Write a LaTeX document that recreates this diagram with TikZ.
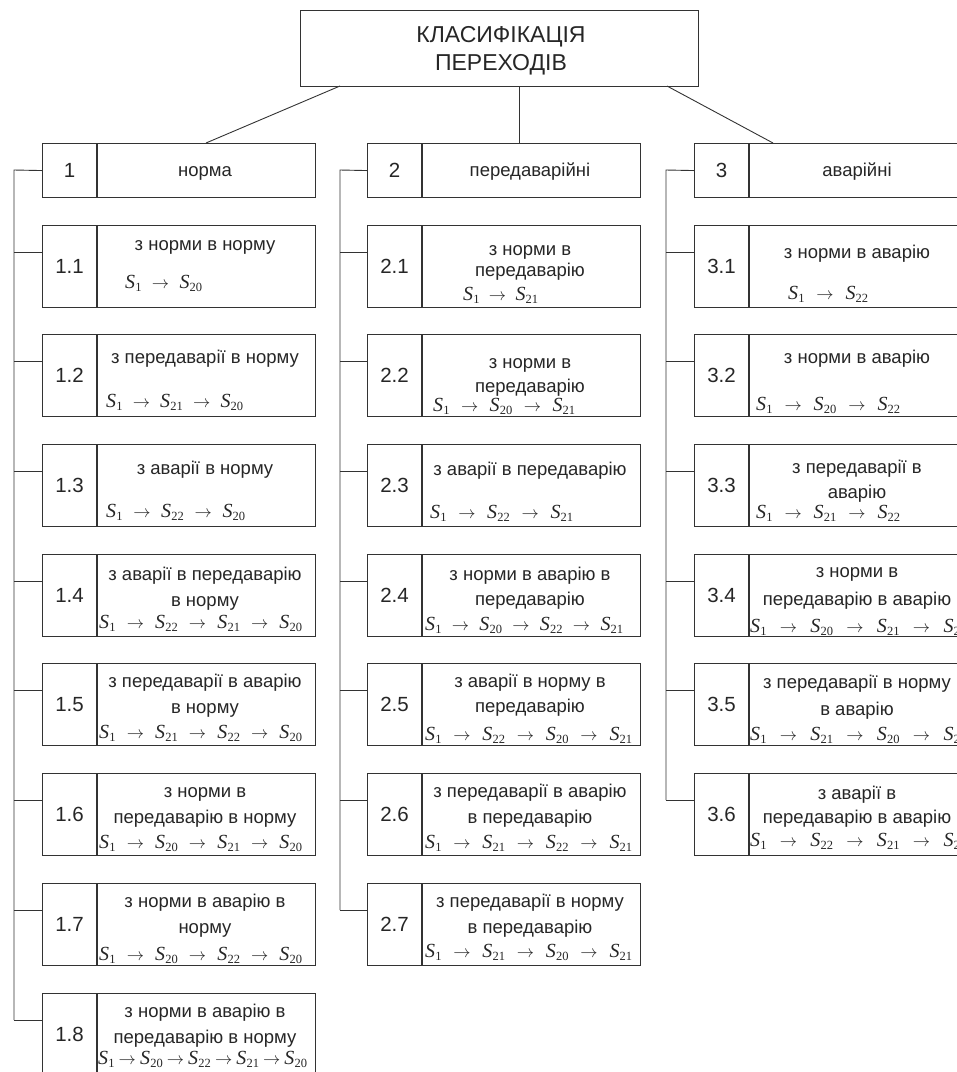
\documentclass[tikz,border=0pt]{standalone}
\usepackage{fontspec}
\setmainfont{Liberation Sans}
\newfontfamily\tnr{Liberation Serif}
\tikzset{
 boxline/.style={draw=black!80, line width=1.1pt},
 numcell/.style={boxline, minimum width=54pt, minimum height=82pt, inner sep=0pt, anchor=north west, font=\fontsize{20.5}{22}\selectfont, text=black!85},
 txtcell/.style={boxline, minimum width=218pt, minimum height=82pt, inner sep=0pt, anchor=north west},
 hnum/.style={numcell, minimum height=54pt},
 htxt/.style={txtcell, minimum height=54pt},
 tl/.style={anchor=base, inner sep=0pt, font=\fontsize{18.5}{20}\selectfont, text=black!85},
 tt/.style={anchor=base, inner sep=0pt, font=\fontsize{23}{25}\selectfont, text=black!85},
 fl/.style={anchor=base west, inner sep=0pt, text=black!85},
 conn/.style={draw=black!80, line width=0.9pt},
}
\newcommand\Sv[1]{{\fontsize{20}{21}\selectfont\tnr\itshape S}\kern0.2pt\raisebox{-3.5pt}{\fontsize{12.5}{13}\selectfont\tnr #1}}
\newcommand\Ar{\hfil{\fontsize{19}{20}\selectfont$\rightarrow$}\hfil}
\newcommand\frm[5]{\node[fl] (#1) at (#2,#3) {\makebox[#4pt][s]{#5}};}
\newcommand\tline[4]{\node[tl] (#1) at (#2,#3) {#4};}
\newcommand\tbox[5]{%
 \node[numcell] (#1n) at (#2,#3) {#4};
 \node[txtcell] (#1t) at (#1n.north east) {};
 \coordinate (#1c) at ([yshift=-27pt]#1n.north west);
 \draw[conn] (#1c) -- (#1c -| #5);
}
\begin{document}
\begin{tikzpicture}[x=1pt,y=-1pt]
\useasboundingbox (0,0) rectangle (957,1072);
\clip (0,0) rectangle (957,1072);
% title
\node[boxline, minimum width=398pt, minimum height=76pt, anchor=north west, inner sep=0pt] (title) at (300,10) {};
\node[tt] (tt1) at (501,42) {КЛАСИФІКАЦІЯ};
\node[tt] (tt2) at (501,70) {ПЕРЕХОДІВ};
% vertical line anchors
\coordinate (v1) at (14,170);
\coordinate (v2) at (340,170);
\coordinate (v3) at (666,170);
% headers
\node[hnum] (h1n) at (42,143) {1};
\node[htxt] (h1t) at (h1n.north east) {};
\tline{h1l}{205}{176}{норма}
\node[hnum] (h2n) at (367,143) {2};
\node[htxt] (h2t) at (h2n.north east) {};
\tline{h2l}{530}{176}{передаварійні}
\node[hnum] (h3n) at (694,143) {3};
\node[htxt] (h3t) at (h3n.north east) {};
\tline{h3l}{857}{176}{аварійні}
% title connectors
\coordinate (ta) at (340,86);
\coordinate (tb) at (519,86);
\coordinate (tc) at (667,86);
\coordinate (ha) at (206,143);
\coordinate (hb) at (519,143);
\coordinate (hc) at (773,143);
\draw[conn] (ta) -- (ha);
\draw[conn] (tb) -- (hb);
\draw[conn] (tc) -- (hc);
% column 1
\tbox{b11}{42}{225}{1.1}{v1}
\tline{l111}{205}{250}{з норми в норму}
\frm{f11}{125}{288}{77}{\Sv{1}\Ar\Sv{20}}
\tbox{b12}{42}{334}{1.2}{v1}
\tline{l121}{205}{363}{з передаварії в норму}
\frm{f12}{106}{407}{137}{\Sv{1}\Ar\Sv{21}\Ar\Sv{20}}
\tbox{b13}{42}{444}{1.3}{v1}
\tline{l131}{205}{474}{з аварії в норму}
\frm{f13}{106}{517}{139}{\Sv{1}\Ar\Sv{22}\Ar\Sv{20}}
\tbox{b14}{42}{554}{1.4}{v1}
\tline{l141}{205}{580}{з аварії в передаварію}
\tline{l142}{205}{606}{в норму}
\frm{f14}{99}{628}{203}{\Sv{1}\Ar\Sv{22}\Ar\Sv{21}\Ar\Sv{20}}
\tbox{b15}{42}{663}{1.5}{v1}
\tline{l151}{205}{687}{з передаварії в аварію}
\tline{l152}{205}{713}{в норму}
\frm{f15}{99}{738}{203}{\Sv{1}\Ar\Sv{21}\Ar\Sv{22}\Ar\Sv{20}}
\tbox{b16}{42}{773}{1.6}{v1}
\tline{l161}{205}{797}{з норми в}
\tline{l162}{205}{823}{передаварію в норму}
\frm{f16}{99}{848}{203}{\Sv{1}\Ar\Sv{20}\Ar\Sv{21}\Ar\Sv{20}}
\tbox{b17}{42}{883}{1.7}{v1}
\tline{l171}{205}{907}{з норми в аварію в}
\tline{l172}{205}{933}{норму}
\frm{f17}{99}{960}{203}{\Sv{1}\Ar\Sv{20}\Ar\Sv{22}\Ar\Sv{20}}
\tbox{b18}{42}{993}{1.8}{v1}
\tline{l181}{205}{1017}{з норми в аварію в}
\tline{l182}{205}{1043}{передаварію в норму}
\frm{f18}{98}{1064}{209}{\Sv{1}\Ar\Sv{20}\Ar\Sv{22}\Ar\Sv{21}\Ar\Sv{20}}
\draw[conn] (h1n.west) -- (v1) -- (b18c -| v1);
% column 2
\tbox{b21}{367}{225}{2.1}{v2}
\tline{l211}{530}{255}{з норми в}
\tline{l212}{530}{276}{передаварію}
\frm{f21}{463}{300}{75}{\Sv{1}\Ar\Sv{21}}
\tbox{b22}{367}{334}{2.2}{v2}
\tline{l221}{530}{368}{з норми в}
\tline{l222}{530}{392}{передаварію}
\frm{f22}{433}{411}{142}{\Sv{1}\Ar\Sv{20}\Ar\Sv{21}}
\tbox{b23}{367}{444}{2.3}{v2}
\tline{l231}{530}{475}{з аварії в передаварію}
\frm{f23}{430}{518}{143}{\Sv{1}\Ar\Sv{22}\Ar\Sv{21}}
\tbox{b24}{367}{554}{2.4}{v2}
\tline{l241}{530}{580}{з норми в аварію в}
\tline{l242}{530}{605}{передаварію}
\frm{f24}{425}{630}{198}{\Sv{1}\Ar\Sv{20}\Ar\Sv{22}\Ar\Sv{21}}
\tbox{b25}{367}{663}{2.5}{v2}
\tline{l251}{530}{687}{з аварії в норму в}
\tline{l252}{530}{712}{передаварію}
\frm{f25}{425}{740}{207}{\Sv{1}\Ar\Sv{22}\Ar\Sv{20}\Ar\Sv{21}}
\tbox{b26}{367}{773}{2.6}{v2}
\tline{l261}{530}{797}{з передаварії в аварію}
\tline{l262}{530}{823}{в передаварію}
\frm{f26}{425}{848}{207}{\Sv{1}\Ar\Sv{21}\Ar\Sv{22}\Ar\Sv{21}}
\tbox{b27}{367}{883}{2.7}{v2}
\tline{l271}{530}{907}{з передаварії в норму}
\tline{l272}{530}{933}{в передаварію}
\frm{f27}{425}{957}{207}{\Sv{1}\Ar\Sv{21}\Ar\Sv{20}\Ar\Sv{21}}
\draw[conn] (h2n.west) -- (v2) -- (b27c -| v2);
% column 3
\tbox{b31}{694}{225}{3.1}{v3}
\tline{l311}{857}{258}{з норми в аварію}
\frm{f31}{788}{299}{80}{\Sv{1}\Ar\Sv{22}}
\tbox{b32}{694}{334}{3.2}{v3}
\tline{l321}{857}{363}{з норми в аварію}
\frm{f32}{756}{410}{144}{\Sv{1}\Ar\Sv{20}\Ar\Sv{22}}
\tbox{b33}{694}{444}{3.3}{v3}
\tline{l331}{857}{473}{з передаварії в}
\tline{l332}{857}{498}{аварію}
\frm{f33}{756}{518}{144}{\Sv{1}\Ar\Sv{21}\Ar\Sv{22}}
\tbox{b34}{694}{554}{3.4}{v3}
\tline{l341}{857}{577}{з норми в}
\tline{l342}{857}{605}{передаварію в аварію}
\frm{f34}{750}{632}{216}{\Sv{1}\Ar\Sv{20}\Ar\Sv{21}\Ar\Sv{22}}
\tbox{b35}{694}{663}{3.5}{v3}
\tline{l351}{857}{688}{з передаварії в норму}
\tline{l352}{857}{715}{в аварію}
\frm{f35}{750}{740}{216}{\Sv{1}\Ar\Sv{21}\Ar\Sv{20}\Ar\Sv{22}}
\tbox{b36}{694}{773}{3.6}{v3}
\tline{l361}{857}{799}{з аварії в}
\tline{l362}{857}{823}{передаварію в аварію}
\frm{f36}{750}{846}{216}{\Sv{1}\Ar\Sv{22}\Ar\Sv{21}\Ar\Sv{22}}
\draw[conn] (h3n.west) -- (v3) -- (b36c -| v3);
\end{tikzpicture}
\end{document}
